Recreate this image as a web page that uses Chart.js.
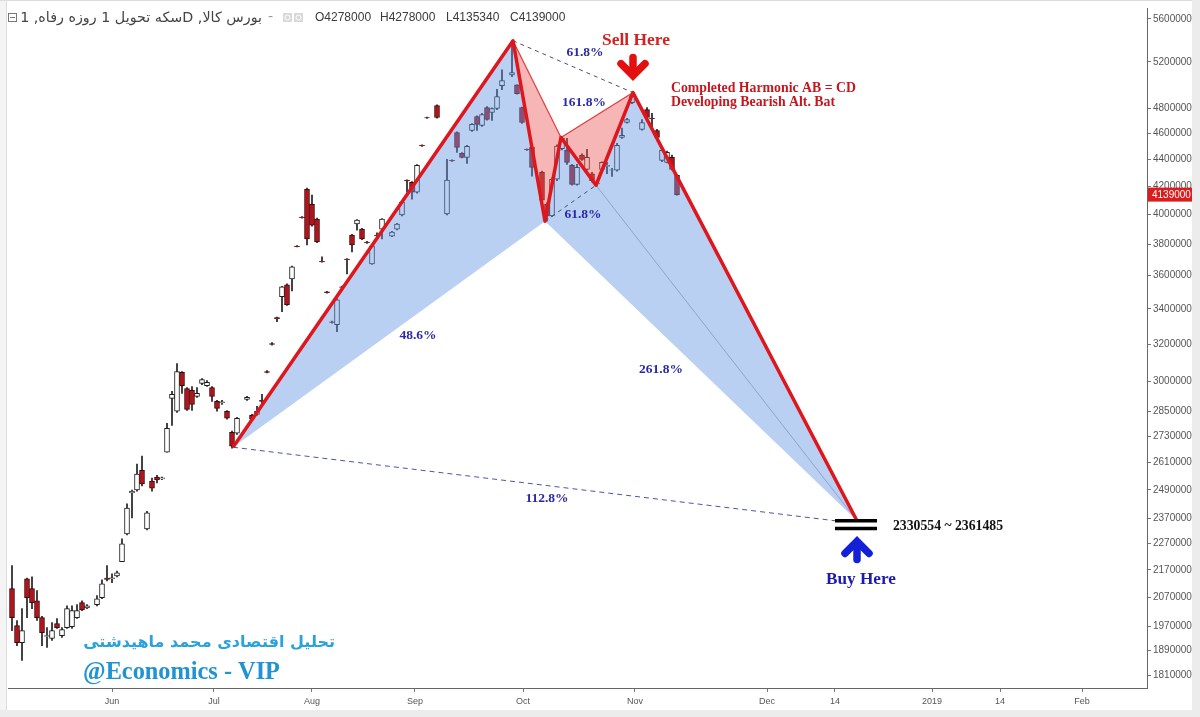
<!DOCTYPE html>
<html>
<head>
<meta charset="utf-8">
<script src="https://cdn.jsdelivr.net/npm/chart.js@4.4.1/dist/chart.umd.min.js"></script>
<style>
  html, body { margin: 0; padding: 0; background: #fff; overflow: hidden; }
  canvas { display: block; }
</style>
</head>
<body>
<canvas id="chart" width="1200" height="717"></canvas>
<script>
// daily bars (trading-day index), OHLC in rials
const days = [0,1,2,3,4,5,6,7,8,9,10,11,12,13,14,15,17,18,19,20,21,22,23,24,25,26,27,28,29,30,
  31,32,33,34,35,36,37,38,39,40,41,42,43,44,45,47,48,49,50,51,52,53,54,55,56,57,58,59,60,61,
  62,63,64,65,66,67,68,69,70,71,72,73,74,76,77,78,79,80,81,82,83,85,87,88,89,90,91,92,93,94,
  95,96,97,98,100,101,102,103,104,106,107,108,109,110,111,112,113,114,115,116,117,118,119,120,121,122,123,124,
  126,127,128,129,130,131,132,133];
const opens = [2101000,1972000,1915000,2137000,2101000,2058000,1999000,1935000,1929000,1979000,
  1938000,1965000,1968000,1999000,2051000,2033000,2044000,2069000,2140000,2137000,2148000,2201000,2309000,2477000,2490000,2576000,2329000,2528000,2546000,2538000,
  2657000,2915000,2851000,3048000,2965000,2955000,2925000,2991000,2980000,2970000,2900000,2893000,2851000,2750000,2745000,2910000,2831000,2836000,2905000,3053000,
  3203000,3349000,3472000,3544000,3580000,3789000,3982000,4177000,4071000,3968000,3690000,3501000,3326000,3309000,3532000,3705000,3861000,3935000,3900000,3815000,
  3674000,3861000,3900000,3854000,3900000,3996000,4243000,4228000,4156000,4505000,4726000,4824000,4003000,4390000,4606000,4443000,4413000,4622000,4734000,4662000,
  4808000,4767000,4800000,4993000,5085000,4999000,4808000,4474000,4489000,4300000,4071000,3990000,4250000,4480000,4466000,4353000,4213000,4428000,4323000,4290000,
  4215000,4323000,4345000,4316000,4316000,4567000,4686000,4849000,4631000,4791000,4720000,4622000,4390000,4375000,4413000,4278000];
const highs = [2186000,1989000,2030000,2140000,2144000,2094000,2003000,1965000,1982000,1996000,
  1965000,2040000,2040000,2044000,2058000,2044000,2076000,2133000,2186000,2155000,2166000,2289000,2431000,2490000,2603000,2639000,2400000,2541000,2554000,2546000,
  2793000,2950000,3095000,3053000,2970000,2975000,2970000,3016000,3006000,2975000,2905000,2905000,2855000,2755000,2822000,2925000,2836000,2875000,2935000,3058000,
  3208000,3352000,3535000,3550000,3660000,3792000,3986000,4185000,4135000,3975000,3718000,3505000,3330000,3460000,3536000,3708000,3865000,3965000,3905000,3820000,
  3795000,3875000,3972000,3885000,3940000,4090000,4245000,4232000,4358000,4509000,4730000,4830000,4398000,4394000,4612000,4450000,4505000,4678000,4740000,4760000,
  4815000,4805000,4960000,5131000,5393000,5000000,4812000,4478000,4495000,4310000,4080000,4260000,4510000,4575000,4560000,4360000,4361000,4440000,4474000,4300000,
  4240000,4380000,4375000,4330000,4520000,4640000,4720000,4933000,4710000,4808000,4760000,4630000,4480000,4460000,4430000,4278000];
const lows = [1955000,1905000,1857000,1999000,2030000,1989000,1905000,1899000,1922000,1962000,
  1932000,1962000,1962000,1996000,2023000,2030000,2040000,2065000,2129000,2123000,2144000,2201000,2305000,2373000,2485000,2507000,2325000,2485000,2520000,2534000,
  2657000,2783000,2845000,2940000,2855000,2855000,2920000,2985000,2975000,2900000,2851000,2885000,2812000,2676000,2740000,2905000,2807000,2831000,2885000,3045000,
  3195000,3326000,3384000,3420000,3507000,3782000,3975000,3796000,3920000,3810000,3684000,3494000,3318000,3270000,3525000,3611000,3750000,3894000,3830000,3805000,
  3670000,3845000,3835000,3850000,3895000,3990000,4156000,4106000,4150000,4497000,4718000,4720000,3996000,4382000,4451000,4408000,4368000,4615000,4622000,4655000,
  4705000,4702000,4790000,4958000,5070000,4920000,4678000,4466000,4272000,4090000,3954000,3985000,4240000,4470000,4360000,4206000,4206000,4390000,4316000,4230000,
  4206000,4316000,4290000,4270000,4310000,4560000,4680000,4840000,4625000,4720000,4650000,4560000,4380000,4370000,4316000,4135340];
const closes = [1999000,1915000,1955000,2069000,2051000,1999000,1948000,1938000,1955000,1965000,
  1958000,2030000,2023000,2023000,2026000,2040000,2065000,2119000,2135000,2141000,2159000,2270000,2414000,2485000,2559000,2516000,2394000,2498000,2533000,2542000,
  2769000,2935000,3053000,2980000,2860000,2885000,2940000,3011000,2996000,2925000,2865000,2898000,2817000,2685000,2817000,2920000,2812000,2851000,2900000,3048000,
  3198000,3344000,3532000,3425000,3655000,3785000,3978000,3835000,3927000,3815000,3686000,3497000,3322000,3454000,3528000,3700000,3796000,3961000,3835000,3810000,
  3789000,3856000,3968000,3881000,3935000,4086000,4238000,4156000,4353000,4500000,4722000,4726000,4243000,4386000,4489000,4413000,4497000,4670000,4670000,4751000,
  4710000,4800000,4900000,5036000,5105000,4925000,4686000,4470000,4338000,4100000,3990000,4250000,4500000,4560000,4375000,4213000,4338000,4398000,4413000,4240000,
  4220000,4375000,4352000,4320000,4505000,4583000,4710000,4908000,4686000,4726000,4716000,4567000,4466000,4451000,4323000,4139000];

// harmonic pivots: X, A, B, C, C', D, target
const pivotT = [44.2, 100.2, 106.6, 109.8, 116.8, 124.2, 169];
const pivotP = [2680000, 5393000, 3954000, 4567000, 4206000, 4933000, 2361485];

// buy zone
const zoneHigh = 2361485;
const zoneLow = 2330554;
const zoneStart = 164.6;
const zoneEnd = 173;

// axes
const yTicks = [1810000, 1890000, 1970000, 2070000, 2170000, 2270000, 2370000, 2490000, 2610000,
  2730000, 2850000, 3000000, 3200000, 3400000, 3600000, 3800000, 4000000, 4200000, 4400000,
  4600000, 4800000, 5200000, 5600000];
const xTickPos = [20, 40.4, 60, 80.6, 102.2, 124.6, 151, 164.6, 184, 197.6, 214];
const xTickText = ['Jun', 'Jul', 'Aug', 'Sep', 'Oct', 'Nov', 'Dec', '14', '2019', '14', 'Feb'];

const lastPrice = 4139000;

// fibonacci ratio labels (position in bar index / price)
const ratios = [
  { text: '61.8%', t: 114.6, p: 5283000 },
  { text: '161.8%', t: 114.4, p: 4849000 },
  { text: '61.8%', t: 114.2, p: 4003000 },
  { text: '48.6%', t: 81.2, p: 3247000 },
  { text: '261.8%', t: 129.8, p: 3063000 },
  { text: '112.8%', t: 107, p: 2452000 }
];

const pt = i => ({ x: pivotT[i], y: pivotP[i] });
const isUp = days.map((d, i) => closes[i] >= opens[i]);

const SERIF = '"Liberation Serif", "Times New Roman", serif';
const SANS = '"Liberation Sans", Arial, sans-serif';

function guide(points, color, width, dash, order, join) {
  return {
    type: 'line', data: points, borderColor: color, borderWidth: width,
    borderDash: dash || [], borderJoinStyle: join || 'miter',
    pointRadius: 0, fill: false, tension: 0, order: order
  };
}

function fitFont(ctx, text, weight, family, width, base) {
  ctx.font = `${weight} ${base}px ${family}`;
  const w = ctx.measureText(text).width;
  ctx.font = `${weight} ${(base * width / w).toFixed(2)}px ${family}`;
}

function arrow(ctx, x, tipY, dir, color) {
  // dir = 1 points down, -1 points up
  ctx.save();
  ctx.strokeStyle = color;
  ctx.lineWidth = 7.5;
  ctx.lineJoin = 'miter';
  ctx.lineCap = 'round';
  const v = tipY - dir * 5;
  ctx.beginPath();
  ctx.moveTo(x - 12, v - dir * 12);
  ctx.lineTo(x, v);
  ctx.lineTo(x + 12, v - dir * 12);
  ctx.stroke();
  ctx.beginPath();
  ctx.moveTo(x, v - dir * 4);
  ctx.lineTo(x, tipY - dir * 23);
  ctx.stroke();
  ctx.restore();
}

const overlay = {
  id: 'overlay',
  beforeDraw(chart) {
    const ctx = chart.ctx;
    ctx.save();
    ctx.fillStyle = '#ffffff';
    ctx.fillRect(0, 0, 1200, 717);
    ctx.fillStyle = '#f4f4f4';
    ctx.fillRect(0, 0, 6, 717);
    ctx.fillStyle = '#ececec';
    ctx.fillRect(1192, 0, 8, 717);
    ctx.fillRect(0, 710, 1200, 7);
    ctx.fillStyle = '#dddddd';
    ctx.fillRect(6, 0, 1, 710);
    ctx.fillRect(0, 0, 1192, 1);
    ctx.restore();
  },
  afterDatasetDraw(chart, args) {
    if (args.index !== 1) return;
    const ctx = chart.ctx, xs = chart.scales.x, ys = chart.scales.y, a = chart.chartArea;
    const blue = 'rgba(99,150,226,0.45)';
    const pink = 'rgba(235,93,93,0.45)';
    const shapes = [
      { idx: [0, 1, 2], color: blue },
      { idx: [1, 2, 3], color: pink },
      { idx: [3, 4, 5], color: pink },
      { idx: [2, 3, 4, 5, 6], color: blue }
    ];
    ctx.save();
    ctx.beginPath();
    ctx.rect(a.left, a.top, a.right - a.left, a.bottom - a.top);
    ctx.clip();
    shapes.forEach(s => {
      ctx.beginPath();
      s.idx.forEach((k, j) => {
        const x = xs.getPixelForValue(pivotT[k]), y = ys.getPixelForValue(pivotP[k]);
        if (j === 0) ctx.moveTo(x, y); else ctx.lineTo(x, y);
      });
      ctx.closePath();
      ctx.fillStyle = s.color;
      ctx.fill();
    });
    ctx.restore();
  },
  afterDraw(chart) {
    const ctx = chart.ctx, xs = chart.scales.x, ys = chart.scales.y;
    const X = t => xs.getPixelForValue(t), Y = p => ys.getPixelForValue(p);
    ctx.save();

    // ratio labels
    ctx.fillStyle = '#2a2aa6';
    ctx.textAlign = 'center';
    ctx.textBaseline = 'middle';
    ctx.font = `bold 13.5px ${SERIF}`;
    ratios.forEach(r => ctx.fillText(r.text, X(r.t), Y(r.p)));

    // sell marker
    const dx = X(pivotT[5]), dy = Y(pivotP[5]);
    arrow(ctx, dx, dy - 12, 1, '#e3100f');
    ctx.fillStyle = '#d42020';
    ctx.textBaseline = 'alphabetic';
    ctx.textAlign = 'center';
    fitFont(ctx, 'Sell Here', 'bold', SERIF, 68, 16);
    ctx.fillText('Sell Here', dx + 3, dy - 48);

    ctx.textAlign = 'left';
    ctx.fillStyle = '#c8161e';
    fitFont(ctx, 'Completed Harmonic AB = CD', 'bold', SERIF, 185, 13);
    ctx.fillText('Completed Harmonic AB = CD', dx + 38, dy - 1);
    ctx.fillText('Developing Bearish Alt. Bat', dx + 38, dy + 13);

    // buy marker
    const ex = X(pivotT[6]), ey = Y(zoneHigh);
    arrow(ctx, ex, Y(zoneLow) + 8, -1, '#1420d6');
    ctx.fillStyle = '#1b1bb0';
    ctx.textAlign = 'center';
    fitFont(ctx, 'Buy Here', 'bold', SERIF, 70, 16);
    ctx.fillText('Buy Here', ex + 4, ey + 63);

    ctx.fillStyle = '#111111';
    ctx.textAlign = 'left';
    const zoneText = zoneLow + ' ~ ' + zoneHigh;
    fitFont(ctx, zoneText, 'bold', SERIF, 110, 13);
    ctx.fillText(zoneText, X(zoneEnd) + 16, Y((zoneHigh + zoneLow) / 2) + 5);

    // last price tag on the axis
    const ly = Y(lastPrice);
    ctx.fillStyle = '#dc1c1c';
    ctx.fillRect(1148, ly - 7, 44, 14);
    ctx.fillStyle = '#ffffff';
    ctx.font = `10px ${SANS}`;
    ctx.textBaseline = 'middle';
    ctx.fillText(String(lastPrice), 1152, ly + 0.5);

    // title bar
    ctx.strokeStyle = '#777';
    ctx.lineWidth = 1;
    ctx.strokeRect(8.5, 13.5, 8, 8);
    ctx.beginPath(); ctx.moveTo(10, 17.5); ctx.lineTo(15, 17.5); ctx.stroke();
    ctx.fillStyle = '#444';
    ctx.textAlign = 'right';
    ctx.direction = 'rtl';
    fitFont(ctx, 'بورس کالا, Dسکه تحویل 1 روزه رفاه, 1', 'normal', '"DejaVu Sans", sans-serif', 242, 12);
    ctx.fillText('بورس کالا, Dسکه تحویل 1 روزه رفاه, 1', 262, 18);
    ctx.direction = 'ltr';
    ctx.textAlign = 'left';
    ctx.fillStyle = '#999';
    ctx.fillText('-', 268, 17);
    ctx.fillStyle = '#d8d8d8';
    ctx.fillRect(283, 13, 9, 9);
    ctx.fillRect(294, 13, 9, 9);
    ctx.strokeStyle = '#ffffff';
    ctx.beginPath(); ctx.arc(287.5, 17.5, 2.5, 0, Math.PI * 2); ctx.stroke();
    ctx.beginPath(); ctx.arc(298.5, 17.5, 2.5, 0, Math.PI * 2); ctx.stroke();
    ctx.fillStyle = '#3a3a3a';
    ctx.font = `12px ${SANS}`;
    [['O', opens], ['H', highs], ['L', lows], ['C', closes]].forEach((f, i) => {
      const v = f[1][f[1].length - 1];
      ctx.fillText(f[0] + v, [315, 380, 446, 510][i], 18);
    });

    // watermark
    ctx.textBaseline = 'alphabetic';
    ctx.direction = 'rtl';
    ctx.textAlign = 'right';
    ctx.fillStyle = '#2aa2dc';
    fitFont(ctx, 'تحلیل اقتصادی محمد ماهیدشتی', 'bold', '"DejaVu Sans", sans-serif', 252, 20);
    ctx.fillText('تحلیل اقتصادی محمد ماهیدشتی', 335, 647);
    ctx.direction = 'ltr';
    ctx.textAlign = 'left';
    ctx.fillStyle = '#2093d2';
    fitFont(ctx, '@Economics - VIP', 'bold', SERIF, 197, 22);
    ctx.fillText('@Economics - VIP', 83, 679);
    ctx.restore();
  }
};

new Chart(document.getElementById('chart'), {
  type: 'bar',
  data: {
    datasets: [
      {
        label: 'wick',
        data: days.map((d, i) => ({ x: d, y: [lows[i], highs[i]] })),
        backgroundColor: '#1e1e1e', borderWidth: 0,
        barThickness: 1, grouped: false, order: 10
      },
      {
        label: 'body',
        data: days.map((d, i) => ({ x: d, y: [opens[i], closes[i]] })),
        backgroundColor: isUp.map(u => u ? '#ffffff' : '#b3141c'),
        borderColor: isUp.map(u => u ? '#1e1e1e' : '#3c0a0a'),
        borderWidth: 1, borderSkipped: false,
        barThickness: 5, grouped: false, order: 9
      },
      guide([pt(1), pt(5)], '#4d5068', 1, [4, 4], 5),
      guide([pt(2), pt(4)], '#4d5068', 1, [4, 4], 5),
      guide([pt(0), { x: zoneStart, y: zoneHigh }], '#4a56aa', 1, [5, 4], 5),
      guide([pt(1), pt(3)], '#e23a3a', 1.2, null, 4),
      guide([pt(3), pt(5)], '#e23a3a', 1.2, null, 4),
      guide([pt(4), pt(6)], '#8ea4cc', 1, null, 4),
      guide(pivotT.map((t, i) => pt(i)), '#e0161d', 3.5, null, 1, 'round'),
      guide([{ x: zoneStart, y: zoneHigh }, { x: zoneEnd, y: zoneHigh }], '#000000', 3.5, null, 0),
      guide([{ x: zoneStart, y: zoneLow }, { x: zoneEnd, y: zoneLow }], '#000000', 3.5, null, 0)
    ]
  },
  options: {
    responsive: false,
    animation: false,
    devicePixelRatio: 1,
    layout: { padding: { left: 8, top: 5, right: 0, bottom: 0 } },
    plugins: {
      legend: { display: false },
      tooltip: { enabled: false }
    },
    events: [],
    scales: {
      x: {
        type: 'linear',
        min: -0.8,
        max: 227,
        offset: false,
        afterBuildTicks: s => { s.ticks = xTickPos.map(v => ({ value: v })); },
        afterFit: s => { s.height = 29; },
        ticks: {
          autoSkip: false, maxRotation: 0, padding: 4,
          font: { size: 9, family: SANS }, color: '#555',
          callback: (v, i) => xTickText[i]
        },
        grid: { drawOnChartArea: false, offset: false, tickLength: 4, color: '#777' },
        border: { color: '#666' }
      },
      y: {
        type: 'logarithmic',
        position: 'right',
        min: 1771000,
        max: 5706000,
        afterBuildTicks: s => { s.ticks = yTicks.map(v => ({ value: v })); },
        afterFit: s => { s.width = 53; },
        ticks: {
          autoSkip: false, padding: 2,
          font: { size: 10, family: SANS }, color: '#555',
          callback: v => String(v)
        },
        grid: { drawOnChartArea: false, tickLength: 4, color: '#777' },
        border: { color: '#666' }
      }
    }
  },
  plugins: [overlay]
});
</script>
</body>
</html>
